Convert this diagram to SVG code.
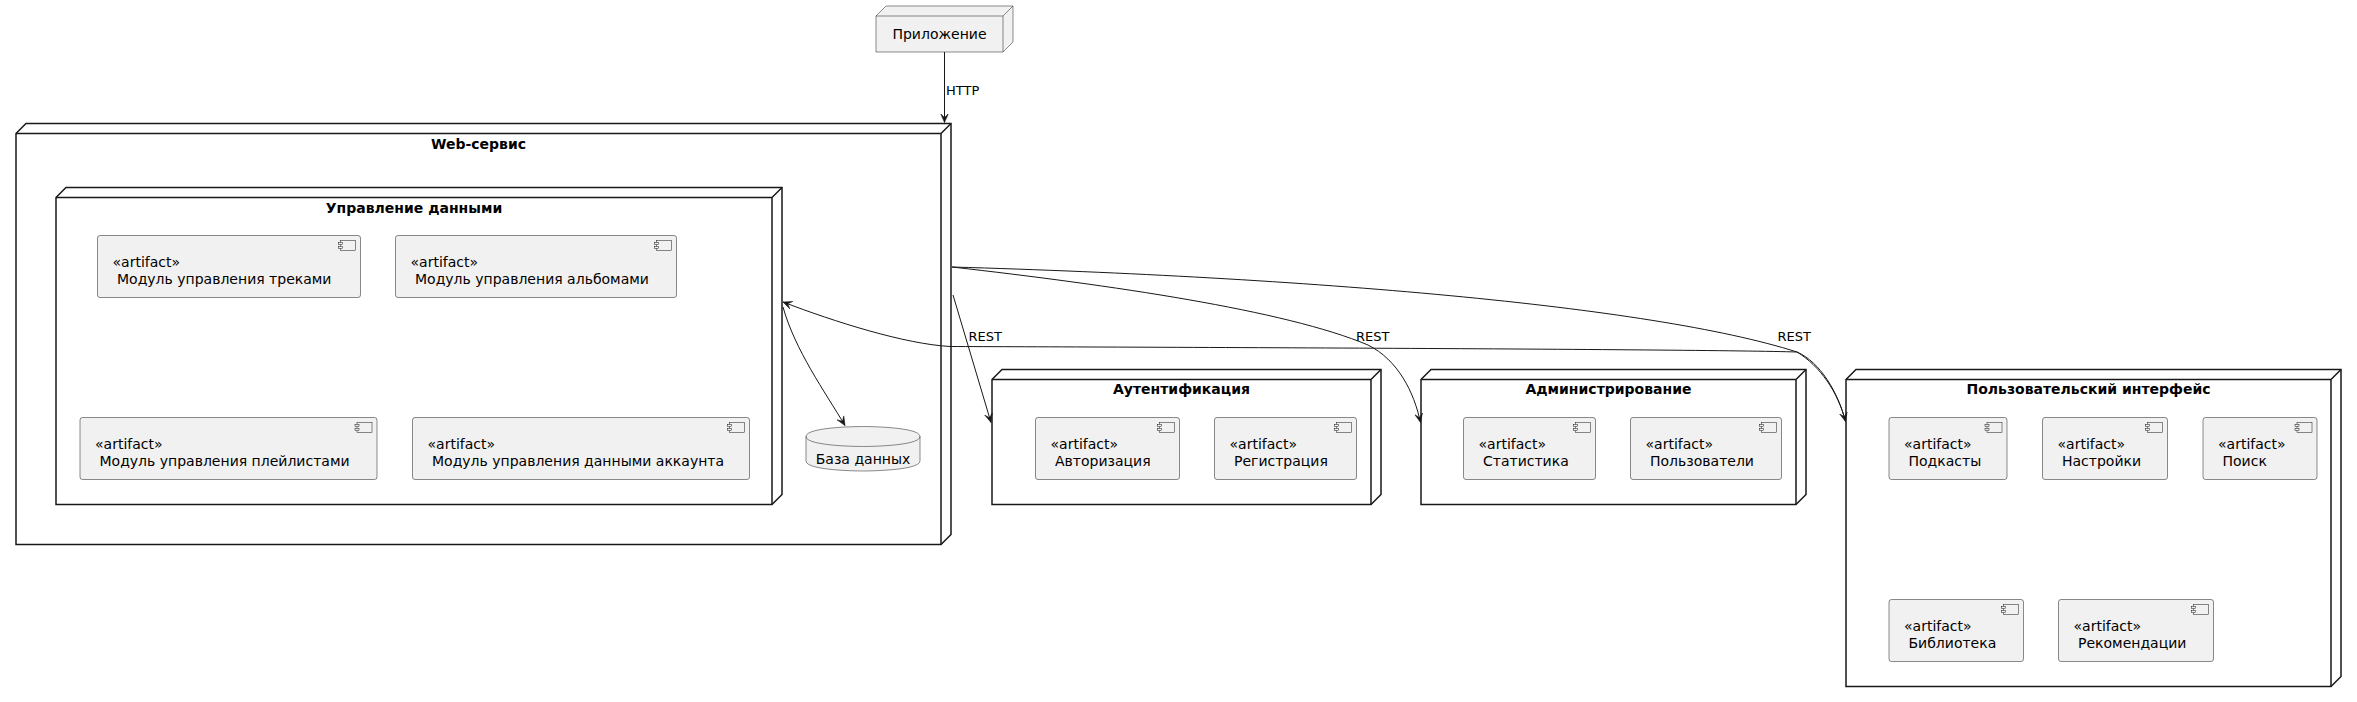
<svg xmlns="http://www.w3.org/2000/svg" xmlns:xlink="http://www.w3.org/1999/xlink" width="2357" height="702" viewBox="0 0 2357 702">
<style>
.nd{fill:#FFFFFF;stroke:#181818;stroke-width:1.5}
.nd2{fill:none;stroke:#181818;stroke-width:1.5}
.app{fill:#F1F1F1;stroke:#181818;stroke-width:0.5}
.art{fill:#F1F1F1;stroke:#181818;stroke-width:0.5}
.ttl{font-family:"DejaVu Sans",sans-serif;font-size:14px;font-weight:bold;fill:#000;text-anchor:middle}
.t{font-family:"DejaVu Sans",sans-serif;font-size:14px;fill:#000}
.lbl{font-family:"DejaVu Sans",sans-serif;font-size:13px;fill:#000}
.e{fill:none;stroke:#181818;stroke-width:1}
</style>
<defs>
<marker id="arr" viewBox="0 0 10 10" refX="9" refY="5" markerWidth="10" markerHeight="10" orient="auto" markerUnits="userSpaceOnUse">
<path d="M0,1 L9,5 L0,9 L4,5 Z" fill="#181818" stroke="#181818" stroke-width="0.5"/>
</marker>
<g id="ico">
<rect x="2" y="0" width="15" height="10" fill="#F1F1F1" stroke="#181818" stroke-width="0.5"/>
<rect x="0" y="2" width="4" height="2" fill="#F1F1F1" stroke="#181818" stroke-width="0.5"/>
<rect x="0" y="6" width="4" height="2" fill="#F1F1F1" stroke="#181818" stroke-width="0.5"/>
</g>
</defs>
<rect width="2357" height="702" fill="#FFFFFF"/>

<g id="web">
<polygon class="nd" points="16,133.5 26,123.5 951,123.5 951,534.5 941,544.5 16,544.5"/>
<path class="nd2" d="M941,133.5 L951,123.5 M16,133.5 L941,133.5 L941,544.5"/>
<text class="ttl" x="478.5" y="148.5">Web-сервис</text>
</g>

<g id="data">
<polygon class="nd" points="56,197.5 66,187.5 782,187.5 782,494.5 772,504.5 56,504.5"/>
<path class="nd2" d="M772,197.5 L782,187.5 M56,197.5 L772,197.5 L772,504.5"/>
<text class="ttl" x="414" y="212.5">Управление данными</text>
</g>

<g id="tracks">
<rect class="art" x="97.5" y="235.5" width="263" height="62" rx="2.5"/>
<use xlink:href="#ico" x="338.5" y="240.5"/>
<text class="t" x="112.5" y="267">«artifact»</text>
<text class="t" x="117" y="283.5">Модуль управления треками</text>
</g>
<g id="albums">
<rect class="art" x="395.5" y="235.5" width="281" height="62" rx="2.5"/>
<use xlink:href="#ico" x="654.5" y="240.5"/>
<text class="t" x="410.5" y="267">«artifact»</text>
<text class="t" x="415" y="283.5">Модуль управления альбомами</text>
</g>
<g id="playlists">
<rect class="art" x="80" y="417.5" width="297" height="62" rx="2.5"/>
<use xlink:href="#ico" x="355" y="422.5"/>
<text class="t" x="95" y="449">«artifact»</text>
<text class="t" x="99.5" y="465.5">Модуль управления плейлистами</text>
</g>
<g id="account">
<rect class="art" x="412.5" y="417.5" width="337" height="62" rx="2.5"/>
<use xlink:href="#ico" x="727.5" y="422.5"/>
<text class="t" x="427.5" y="449">«artifact»</text>
<text class="t" x="432" y="465.5">Модуль управления данными аккаунта</text>
</g>

<g id="db">
<path fill="#F1F1F1" stroke="#181818" stroke-width="0.5" d="M806,436.5 C806,426.5 863,426.5 863,426.5 C863,426.5 920,426.5 920,436.5 L920,461 C920,471 863,471 863,471 C863,471 806,471 806,461 Z"/>
<path fill="none" stroke="#181818" stroke-width="0.5" d="M806,436.5 C806,446.5 863,446.5 863,446.5 C863,446.5 920,446.5 920,436.5"/>
<text class="t" x="863" y="463.5" text-anchor="middle">База данных</text>
</g>

<g id="app">
<polygon class="app" points="876,16 886,6 1013,6 1013,42 1003,52 876,52"/>
<path fill="none" stroke="#181818" stroke-width="0.5" d="M1003,16 L1013,6 M876,16 L1003,16 L1003,52"/>
<text class="t" x="939.5" y="38.5" text-anchor="middle">Приложение</text>
</g>

<g id="auth">
<polygon class="nd" points="992,379.5 1002,369.5 1381,369.5 1381,494.5 1371,504.5 992,504.5"/>
<path class="nd2" d="M1371,379.5 L1381,369.5 M992,379.5 L1371,379.5 L1371,504.5"/>
<text class="ttl" x="1181.5" y="394">Аутентификация</text>
</g>
<g id="login">
<rect class="art" x="1035.5" y="417.5" width="144" height="62" rx="2.5"/>
<use xlink:href="#ico" x="1157.5" y="422.5"/>
<text class="t" x="1050.5" y="449">«artifact»</text>
<text class="t" x="1055" y="465.5">Авторизация</text>
</g>
<g id="register">
<rect class="art" x="1214.5" y="417.5" width="142" height="62" rx="2.5"/>
<use xlink:href="#ico" x="1334.5" y="422.5"/>
<text class="t" x="1229.5" y="449">«artifact»</text>
<text class="t" x="1234" y="465.5">Регистрация</text>
</g>

<g id="admin">
<polygon class="nd" points="1421,379.5 1431,369.5 1806,369.5 1806,494.5 1796,504.5 1421,504.5"/>
<path class="nd2" d="M1796,379.5 L1806,369.5 M1421,379.5 L1796,379.5 L1796,504.5"/>
<text class="ttl" x="1608.5" y="394">Администрирование</text>
</g>
<g id="stats">
<rect class="art" x="1463.5" y="417.5" width="132" height="62" rx="2.5"/>
<use xlink:href="#ico" x="1573.5" y="422.5"/>
<text class="t" x="1478.5" y="449">«artifact»</text>
<text class="t" x="1483" y="465.5">Статистика</text>
</g>
<g id="users">
<rect class="art" x="1630.5" y="417.5" width="151" height="62" rx="2.5"/>
<use xlink:href="#ico" x="1759.5" y="422.5"/>
<text class="t" x="1645.5" y="449">«artifact»</text>
<text class="t" x="1650" y="465.5">Пользователи</text>
</g>

<g id="ui">
<polygon class="nd" points="1846,379.5 1856,369.5 2341,369.5 2341,676.5 2331,686.5 1846,686.5"/>
<path class="nd2" d="M2331,379.5 L2341,369.5 M1846,379.5 L2331,379.5 L2331,686.5"/>
<text class="ttl" x="2088.5" y="394">Пользовательский интерфейс</text>
</g>
<g id="podcasts">
<rect class="art" x="1889" y="417.5" width="118" height="62" rx="2.5"/>
<use xlink:href="#ico" x="1985" y="422.5"/>
<text class="t" x="1904" y="449">«artifact»</text>
<text class="t" x="1908.5" y="465.5">Подкасты</text>
</g>
<g id="settings">
<rect class="art" x="2042.5" y="417.5" width="125" height="62" rx="2.5"/>
<use xlink:href="#ico" x="2145.5" y="422.5"/>
<text class="t" x="2057.5" y="449">«artifact»</text>
<text class="t" x="2062" y="465.5">Настройки</text>
</g>
<g id="search">
<rect class="art" x="2203" y="417.5" width="114" height="62" rx="2.5"/>
<use xlink:href="#ico" x="2295" y="422.5"/>
<text class="t" x="2218" y="449">«artifact»</text>
<text class="t" x="2222.5" y="465.5">Поиск</text>
</g>
<g id="library">
<rect class="art" x="1889" y="599.5" width="134.5" height="62" rx="2.5"/>
<use xlink:href="#ico" x="2001.5" y="604.5"/>
<text class="t" x="1904" y="631">«artifact»</text>
<text class="t" x="1908.5" y="647.5">Библиотека</text>
</g>
<g id="recs">
<rect class="art" x="2058.5" y="599.5" width="155" height="62" rx="2.5"/>
<use xlink:href="#ico" x="2191.5" y="604.5"/>
<text class="t" x="2073.5" y="631">«artifact»</text>
<text class="t" x="2078" y="647.5">Рекомендации</text>
</g>

<g id="connectors">
<path class="e" d="M944.5,52 L944.5,122.5" marker-end="url(#arr)"/>
<text class="lbl" x="946" y="94.5">HTTP</text>
<path class="e" d="M953,295 L991,422.5" marker-end="url(#arr)"/>
<text class="lbl" x="968.5" y="340.5">REST</text>
<path class="e" d="M952,267 C1110,285 1285,310 1368,345 C1398,360 1414,392 1420.5,422.5" marker-end="url(#arr)"/>
<text class="lbl" x="1356" y="340.5">REST</text>
<path class="e" d="M952,267 C1300,277 1650,305 1797,352 C1820,366 1838,392 1845.5,421.5" marker-end="url(#arr)"/>
<text class="lbl" x="1777.5" y="340.5">REST</text>
<path class="e" d="M1845.5,421.5 C1838,392 1820,362 1797,352 C1700,349 1100,347 950,346.5 C905,344 835,322 783,302" marker-end="url(#arr)"/>
<path class="e" d="M783,307 C795,350 825,392 845,425.5" marker-end="url(#arr)"/>
</g>
</svg>
